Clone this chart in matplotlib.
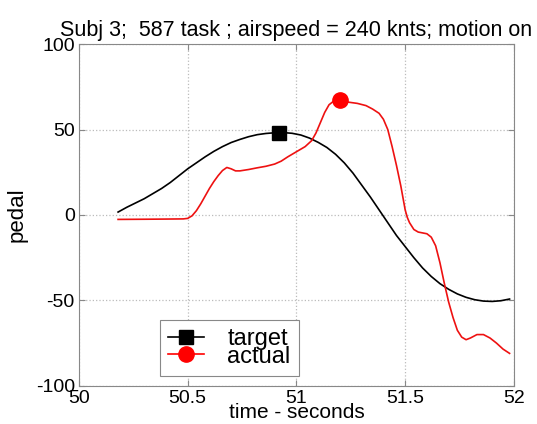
import numpy as np
import matplotlib
matplotlib.use('Agg')
import matplotlib.pyplot as plt

plt.rcParams['font.family'] = ['Liberation Sans', 'DejaVu Sans']
plt.rcParams['axes.unicode_minus'] = False

# target pedal trace (time in s, pedal)
target_t = [50.18, 50.22, 50.26, 50.30, 50.34, 50.38, 50.42, 50.46, 50.50, 50.54,
            50.58, 50.62, 50.66, 50.70, 50.74, 50.78, 50.82, 50.86, 50.90, 50.94,
            50.98, 51.02, 51.06, 51.10, 51.14, 51.18, 51.22, 51.26, 51.30, 51.34,
            51.38, 51.42, 51.46, 51.50, 51.54, 51.58, 51.62, 51.66, 51.70, 51.74,
            51.78, 51.82, 51.86, 51.90, 51.94, 51.98]
target_p = [1.7, 4.5, 7, 9.5, 12.5, 15.5, 19, 23, 27, 30.5,
            34, 37.2, 40, 42.4, 44.2, 45.8, 47, 47.7, 48.1, 48.2,
            47.8, 46.8, 45, 42.5, 39.5, 35.5, 30.5, 24.5, 17.5, 10.5,
            3, -4.5, -12, -18.5, -25, -31, -36, -40.2, -43.5, -46.2,
            -48.2, -49.6, -50.4, -50.6, -50.2, -49.2]

# actual pedal trace
actual_t = [50.18, 50.30, 50.40, 50.48, 50.50, 50.52, 50.54, 50.56, 50.58, 50.60,
            50.62, 50.64, 50.66, 50.68, 50.70, 50.72, 50.74, 50.78, 50.82, 50.86,
            50.90, 50.93, 50.96, 51.00, 51.04, 51.07, 51.09, 51.11, 51.13, 51.15,
            51.17, 51.20, 51.24, 51.28, 51.32, 51.35, 51.38, 51.40, 51.42, 51.44,
            51.46, 51.48, 51.50, 51.51, 51.52, 51.54, 51.56, 51.58, 51.60, 51.62,
            51.64, 51.66, 51.68, 51.70, 51.72, 51.74, 51.76, 51.78, 51.80, 51.83,
            51.86, 51.89, 51.92, 51.95, 51.98]
actual_p = [-2.6, -2.5, -2.4, -2.3, -2.0, -0.5, 2.5, 6.5, 11, 15.5,
            19.5, 23, 26, 27.8, 27, 25.8, 25.8, 26.6, 27.6, 28.5,
            29.8, 31.5, 34, 37, 40, 43.5, 48, 54, 60, 64.5,
            66.5, 67, 66, 65.3, 64, 62, 59.5, 56, 50, 40,
            29, 17, 3, -1.5, -4.5, -8.5, -10, -10.5, -11, -13,
            -18, -28, -40, -51, -60, -67.5, -71.5, -73, -72, -70,
            -70, -72, -75, -78.5, -81]

target_mark = (50.92, 48)
actual_mark = (51.20, 67)

xticks = [50, 50.5, 51, 51.5, 52]
yticks = [-100, -50, 0, 50, 100]

fig = plt.figure(figsize=(5.37, 4.24), dpi=100)
ax = fig.add_axes([0.147, 0.09, 0.81, 0.806])

ax.plot(target_t, target_p, color='black', lw=1.2)
ax.plot(actual_t, actual_p, color='#ee1111', lw=1.2)
ax.plot(*target_mark, 's', color='black', ms=10)
ax.plot(*actual_mark, 'o', color='red', ms=11)

ax.set_xlim(50, 52)
ax.set_ylim(-100, 100)
ax.set_xticks(xticks)
ax.set_xticklabels(['50', '50.5', '51', '51.5', '52'])
ax.set_yticks(yticks)
ax.tick_params(direction='in', length=4, labelsize=14, color='#888888',
               top=True, right=True, pad=3)
for s in ax.spines.values():
    s.set_color('#888888')
    s.set_linewidth(0.8)
ax.grid(True, linestyle=':', color='#bbbbbb', lw=0.9)

ax.set_title('Subj 3;  587 task ; airspeed = 240 knts; motion on', fontsize=15.5, pad=6)
ax.set_xlabel('time - seconds', fontsize=15, labelpad=-3)
ax.set_ylabel('pedal', fontsize=16, labelpad=6)

# legend handles: line through marker
h1, = ax.plot([], [], '-s', color='black', ms=10, lw=1.2)
h2, = ax.plot([], [], '-o', color='red', ms=11, lw=1.2)
leg = ax.legend([h1, h2], ['target', 'actual'], loc='lower left',
                bbox_to_anchor=(0.186, 0.029), borderaxespad=0, fontsize=17,
                handlelength=1.5, handletextpad=1.0, labelspacing=-0.2,
                borderpad=0.35, fancybox=False, framealpha=1, numpoints=1)
leg.get_frame().set_edgecolor('#888888')
leg.get_frame().set_linewidth(0.8)

fig.savefig('out.png', dpi=100)
